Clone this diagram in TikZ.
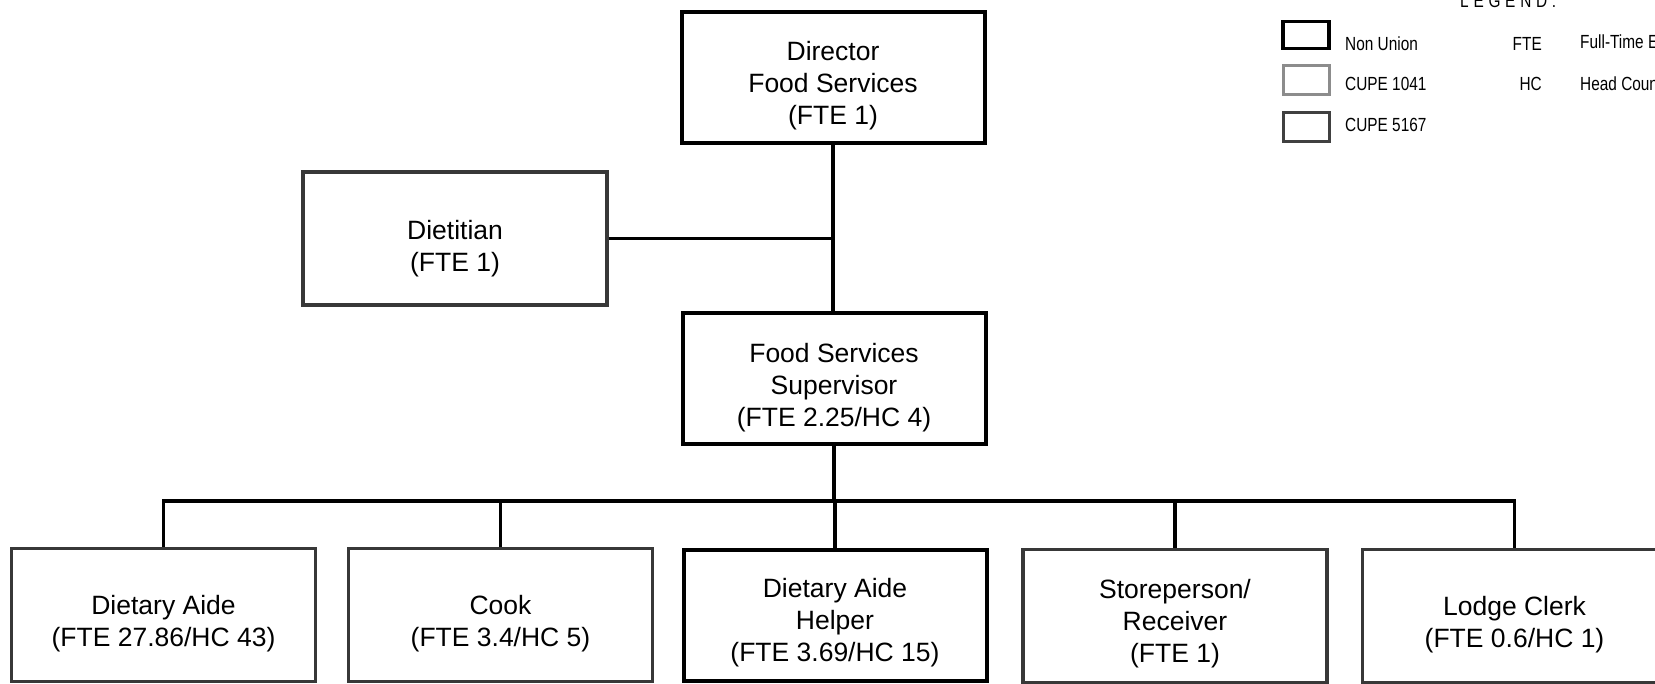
\documentclass[tikz,border=0pt]{standalone}
\usepackage{fontspec}
\setmainfont{Liberation Sans}
\newfontfamily\legfont[FakeStretch=0.81]{Liberation Sans}
\begin{document}
\begin{tikzpicture}[x=1pt,y=-1pt,
  nu/.style={draw=black, line width=4pt, minimum width=303pt, minimum height=131pt, inner sep=0pt},
  cupe/.style={draw=black!78, line width=3.2pt, minimum width=304pt, minimum height=133pt, inner sep=0pt},
  txt/.style={align=center, font=\fontsize{26.5}{32}\selectfont, inner sep=0pt},
  conn/.style={line width=3.3pt, black},
  leg/.style={font=\legfont\fontsize{19}{22}\selectfont, inner sep=0pt},
  legbox/.style={minimum width=46pt, minimum height=27pt, inner sep=0pt}
]
\useasboundingbox (0,0) rectangle (1655,684);
\clip (0,0) rectangle (1655,684);

% boxes
\node[nu] (dir) at (833,77.5) {};
\node[txt] (dirT) at ([yshift=-8pt]dir.center) {Director\\Food Services\\(FTE 1)};

\node[cupe] (diet) at (455,238.5) {};
\node[txt] (dietT) at ([yshift=-10pt]diet.center) {Dietitian\\(FTE 1)};

\node[nu] (sup) at (834,379) {};
\node[txt] (supT) at ([yshift=-9pt]sup.center) {Food Services\\Supervisor\\(FTE 2.25/HC 4)};

\node[cupe] (aide) at (163.5,615) {};
\node[txt] (aideT) at ([yshift=-9pt]aide.center) {Dietary Aide\\(FTE 27.86/HC 43)};

\node[cupe] (cook) at (500.5,615) {};
\node[txt] (cookT) at ([yshift=-9pt]cook.center) {Cook\\(FTE 3.4/HC 5)};

\node[nu] (help) at (835,615) {};
\node[txt] (helpT) at ([yshift=-8pt]help.center) {Dietary Aide\\Helper\\(FTE 3.69/HC 15)};

\node[cupe] (store) at (1175,616) {};
\node[txt] (storeT) at ([yshift=-8pt]store.center) {Storeperson/\\Receiver\\(FTE 1)};

\node[cupe] (lodge) at (1514.5,616) {};
\node[txt] (lodgeT) at ([yshift=-9pt]lodge.center) {Lodge Clerk\\(FTE 0.6/HC 1)};

% connectors
\coordinate (bus) at (834,501);
\draw[conn] (dir.south) -- (dir.south |- sup.north);
\draw[conn] (diet.east) -- (diet.east -| dir.south);
\foreach \c in {aide,cook,help,store,lodge}
  \draw[conn] (sup.south) -- (sup.south |- bus) -| (\c.north);

% legend
\node[leg, anchor=base west] (legT) at (1460,8) {\addfontfeature{LetterSpace=25}LEGEND:};
\node[legbox, draw=black, line width=3.5pt] (l1) at (1306,35) {};
\node[legbox, draw=black!45, line width=3pt, minimum height=29pt] (l2) at (1306,80) {};
\node[legbox, draw=black!75, line width=3pt, minimum height=29pt] (l3) at (1306,127) {};
\node[leg, anchor=west] (l1t) at (1345,44) {Non Union};
\node[leg, anchor=west] (l2t) at (1345,84) {CUPE 1041};
\node[leg, anchor=west] (l3t) at (1345,125) {CUPE 5167};
\node[leg, anchor=east] (fte) at (1542,44) {FTE};
\node[leg, anchor=east] (hc) at (1542,84) {HC};
\node[leg, anchor=west] (ftet) at (1580,44) {Full-Time Equivalent};
\node[leg, anchor=west] (hct) at (1580,84) {Head Count};
\end{tikzpicture}
\end{document}
